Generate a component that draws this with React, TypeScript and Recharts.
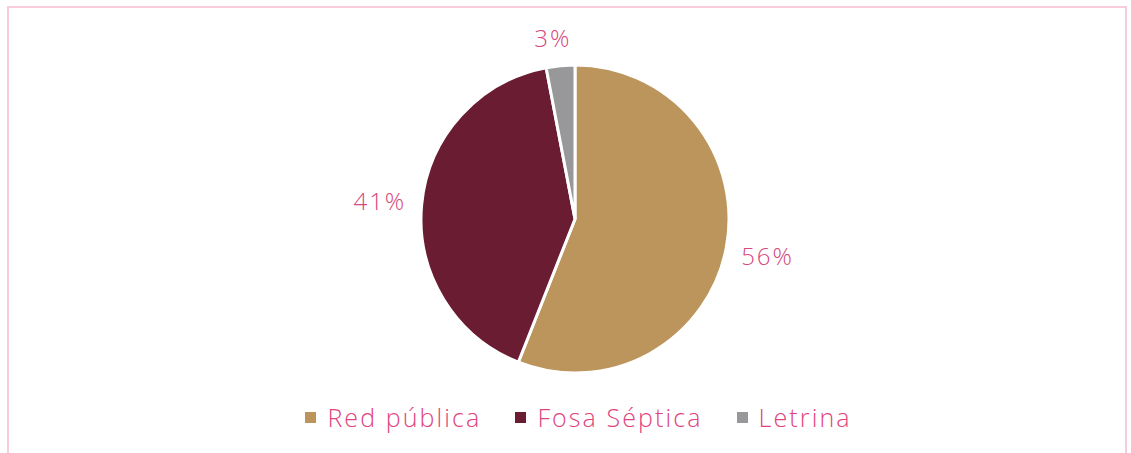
import { PieChart, Pie, Cell, Legend } from 'recharts'

const categories = ['Red pública', 'Fosa Séptica', 'Letrina']
const shares = [56, 41, 3]
const colors = ['#BC955C', '#691C32', '#98989A']

const data = categories.map((name, i) => ({ name, value: shares[i] }))

const RADIAN = Math.PI / 180
const FONT = '"Open Sans", sans-serif'

function renderLabel(props: any) {
  const { cx, cy, midAngle, outerRadius, value } = props
  const r = outerRadius + (value < 5 ? 28 : 42)
  const x = cx + r * Math.cos(-midAngle * RADIAN) + (value < 5 ? -5 : 0)
  const y = cy + r * Math.sin(-midAngle * RADIAN)
  return (
    <text
      x={x}
      y={y}
      fill="#D6487E"
      fontSize={24}
      fontWeight={300}
      letterSpacing={2}
      fontFamily={FONT}
      textAnchor="middle"
      dominantBaseline="central"
    >
      {`${value}%`}
    </text>
  )
}

function LegendContent() {
  return (
    <div
      style={{
        display: 'flex',
        justifyContent: 'center',
        alignItems: 'center',
        gap: 34,
        paddingLeft: 26,
      }}
    >
      {categories.map((name, i) => (
        <div key={name} style={{ display: 'flex', alignItems: 'center' }}>
          <span style={{ width: 11, height: 11, background: colors[i], marginRight: 11 }} />
          <span
            style={{
              color: '#E0447C',
              fontSize: 25,
              fontWeight: 300,
              letterSpacing: 2.1,
              fontFamily: FONT,
            }}
          >
            {name}
          </span>
        </div>
      ))}
    </div>
  )
}

export default function App() {
  return (
    <div style={{ position: 'absolute', left: 0, top: 0, width: 1131, height: 453, overflow: 'hidden', background: '#fff' }}>
      <div
        style={{
          position: 'absolute',
          left: 7,
          top: 6,
          width: 1120,
          height: 470,
          border: '2px solid #F8CBDD',
          boxSizing: 'border-box',
        }}
      />
      <PieChart width={1131} height={453} style={{ position: 'absolute', left: 0, top: 0 }}>
        <Pie
          data={data}
          dataKey="value"
          nameKey="name"
          cx={570}
          cy={214}
          outerRadius={154}
          startAngle={90}
          endAngle={-270}
          stroke="#fff"
          strokeWidth={3}
          label={renderLabel}
          labelLine={false}
          isAnimationActive={false}
        >
          {data.map((d, i) => (
            <Cell key={d.name} fill={colors[i]} />
          ))}
        </Pie>
        <Legend
          content={<LegendContent />}
          wrapperStyle={{ left: 0, top: 400, width: 1131 }}
        />
      </PieChart>
    </div>
  )
}
